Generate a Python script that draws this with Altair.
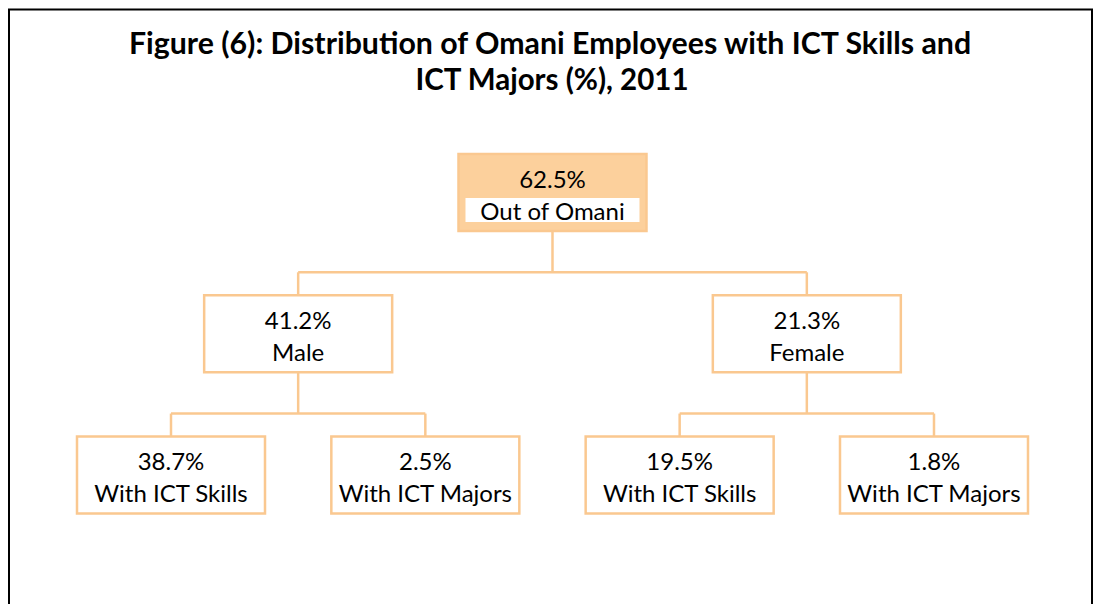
import altair as alt
import pandas as pd

# ---- data ----
node_labels = ["Out of Omani", "Male", "Female",
               "With ICT Skills", "With ICT Majors",
               "With ICT Skills", "With ICT Majors"]
node_values = [62.5, 41.2, 21.3, 38.7, 2.5, 19.5, 1.8]
node_parents = [None, 0, 0, 1, 1, 2, 2]
title_lines = ["Figure (6): Distribution of Omani Employees with ICT Skills and",
               "ICT Majors (%), 2011"]

# ---- layout (derived from tree structure) ----
n = len(node_labels)
children = {i: [j for j, p in enumerate(node_parents) if p == i] for i in range(n)}
level = []
for i, p in enumerate(node_parents):
    level.append(0 if p is None else level[p] + 1)
leaves = [i for i in range(n) if not children[i]]
slot = {}
for k, i in enumerate(leaves):
    slot[i] = float(k)
for i in reversed(range(n)):
    if children[i]:
        slot[i] = sum(slot[c] for c in children[i]) / len(children[i])

PX = 254.33   # px per slot
PY = 141.25   # px per level
W, H = 1085, 596
HW = 94 / PX      # box half width
HH = 38.5 / PY    # box half height
ELBOW = 0.565     # connector elbow offset (levels)

nodes = pd.DataFrame({
    "label": node_labels,
    "value": [f"{v}%" for v in node_values],
    "s": [slot[i] for i in range(n)],
    "lv": level,
    "root": [p is None for p in node_parents],
})

segs = []
for i in range(n):
    ch = children[i]
    if not ch:
        continue
    e = level[i] + ELBOW
    segs.append(dict(x=slot[i], x2=slot[i], y=level[i] + HH, y2=e))
    segs.append(dict(x=slot[ch[0]], x2=slot[ch[-1]], y=e, y2=e))
    for c in ch:
        segs.append(dict(x=slot[c], x2=slot[c], y=e, y2=level[c] - HH))
segs = pd.DataFrame(segs)

d0x = -(171 - 8) / PX
xs = alt.Scale(domain=[d0x, d0x + W / PX], nice=False, zero=False)
d0y = -(192.5 - 8) / PY
ys = alt.Scale(domain=[d0y, d0y + H / PY], nice=False, zero=False, reverse=True)

FILL = "#FCD09C"
LINE = "#FAC890"
FONT = "Lato"
FS = 24

base = alt.Chart(nodes)

conn = alt.Chart(segs).mark_rule(color=LINE, strokeWidth=2.5).encode(
    x=alt.X("x:Q", scale=xs, axis=None), x2="x2:Q",
    y=alt.Y("y:Q", scale=ys, axis=None), y2="y2:Q")

boxes = base.transform_calculate(
    x1=f"datum.s - {HW}", x2=f"datum.s + {HW}",
    y1=f"datum.lv - {HH}", y2=f"datum.lv + {HH}",
).mark_rect(strokeWidth=2.5, stroke=LINE).encode(
    x=alt.X("x1:Q", scale=xs, axis=None), x2="x2:Q",
    y=alt.Y("y1:Q", scale=ys, axis=None), y2="y2:Q",
    fill=alt.condition("datum.root", alt.value(FILL), alt.value("white")),
)

inner = base.transform_filter("datum.root").transform_calculate(
    x1=f"datum.s - {87 / PX}", x2=f"datum.s + {87 / PX}",
    y1=f"datum.lv + {5.5 / PY}", y2=f"datum.lv + {29.5 / PY}",
).mark_rect(fill="white").encode(
    x=alt.X("x1:Q", scale=xs, axis=None), x2="x2:Q",
    y=alt.Y("y1:Q", scale=ys, axis=None), y2="y2:Q",
)

txt_val = base.mark_text(font=FONT, fontSize=FS, baseline="alphabetic",
                         dy=-5, color="black").encode(
    x=alt.X("s:Q", scale=xs, axis=None), y=alt.Y("lv:Q", scale=ys, axis=None),
    text="value:N")
txt_lab = base.mark_text(font=FONT, fontSize=FS, baseline="alphabetic",
                         dy=27, color="black").encode(
    x=alt.X("s:Q", scale=xs, axis=None), y=alt.Y("lv:Q", scale=ys, axis=None),
    text="label:N")

tdf = pd.DataFrame({"t": title_lines, "row": [0, 1]})
t1 = alt.Chart(tdf).transform_filter("datum.row == 0").mark_text(
    font=FONT, fontSize=30.3, fontWeight="bold", baseline="alphabetic", color="black"
).encode(x=alt.value(542), y=alt.value(46), text="t:N")
t2 = alt.Chart(tdf).transform_filter("datum.row == 1").mark_text(
    font=FONT, fontSize=29.5, fontWeight="bold", baseline="alphabetic", color="black"
).encode(x=alt.value(544), y=alt.value(82), text="t:N")

frame = alt.Chart(pd.DataFrame({"k": [0]})).mark_rule(color="black", strokeWidth=2)
fl = frame.encode(x=alt.value(1), y=alt.value(1), y2=alt.value(H))
ft = frame.encode(x=alt.value(0), x2=alt.value(W), y=alt.value(1.5))
fr = frame.encode(x=alt.value(W - 1), y=alt.value(1), y2=alt.value(H))

chart = alt.layer(conn, boxes, inner, txt_val, txt_lab, t1, t2, fl, ft, fr).properties(
    width=W, height=H, padding=0, autosize=alt.AutoSizeParams(type="none")
).configure_view(stroke=None)

chart.save("out.html", embed_options={"renderer": "svg", "actions": False})
